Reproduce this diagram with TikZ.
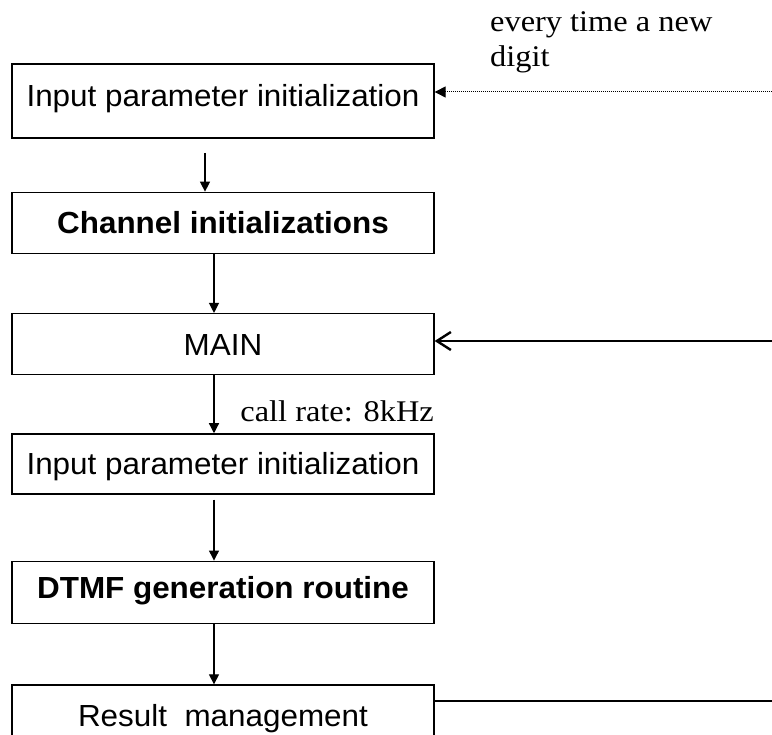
\documentclass[tikz,border=0pt]{standalone}
\usepackage{fontspec}
\setmainfont{Liberation Serif}[FakeStretch=1.08]
\setsansfont{Liberation Sans}[FakeStretch=1.03]
\usetikzlibrary{positioning, arrows.meta}

\begin{document}
\begin{tikzpicture}[x=1pt, y=-1pt,
    stage/.style={draw, line width=1.3pt, minimum width=422pt, inner sep=0pt,
      font=\sffamily\fontsize{30.5}{34}\selectfont, text height=22pt, text depth=0pt},
    flow/.style={-{Triangle[length=10pt,width=10pt]}, line width=1.2pt},
    note/.style={font=\fontsize{30}{35}\selectfont, inner sep=0pt}]
  \useasboundingbox (0,0) rectangle (772,735);

  % processing chain
  \node[stage, minimum height=74pt, text depth=10pt] (inp) at (223,101) {Input parameter initialization};
  \node[stage, minimum height=61pt, below=53pt of inp] (chan) {\textbf{Channel initializations}};
  \node[stage, minimum height=61pt, below=59pt of chan] (main) {MAIN};
  \node[stage, minimum height=60pt, below=58pt of main] (inp2) {Input parameter initialization};
  \node[stage, minimum height=62pt, text depth=10pt, line width=1.8pt, below=66pt of inp2] (dtmf) {\textbf{DTMF generation routine}};
  \node[stage, minimum height=61pt, below=60pt of dtmf] (res) {Result\ \ management};

  % labels
  \node[note, anchor=base west, align=left] (every) at (490,67) {every time a new\\digit};
  \node[note, anchor=base east] (rate) at (434,422) {call rate: 8kHz};

  % down arrows
  \coordinate (col) at (214,0);
  \coordinate (top) at (205,153);
  \draw[flow] (top) -- (top |- chan.north);
  \draw[flow] (chan.south -| col) -- (main.north -| col);
  \draw[flow] (main.south -| col) -- (inp2.north -| col);
  \path (inp2.south -| col) ++(0,5) coordinate (gap);
  \draw[flow] (gap) -- (dtmf.north -| col);
  \draw[flow] (dtmf.south -| col) -- (res.north -| col);

  % loops on the right
  \coordinate (edge1) at (772,92);
  \coordinate (edge2) at (772,341);
  \coordinate (edge3) at (772,701);
  \draw[line width=1pt, dash pattern=on 1pt off 1pt, -{Triangle[length=11pt,width=11pt]}] (edge1) -- (inp.east |- edge1);
  \draw[line width=2pt, -{Straight Barb[length=14pt,width=18pt,line width=2.4pt]}] (edge2) -- (main.east |- edge2);
  \draw[line width=2.3pt] (res.east |- edge3) -- (edge3);
\end{tikzpicture}
\end{document}
